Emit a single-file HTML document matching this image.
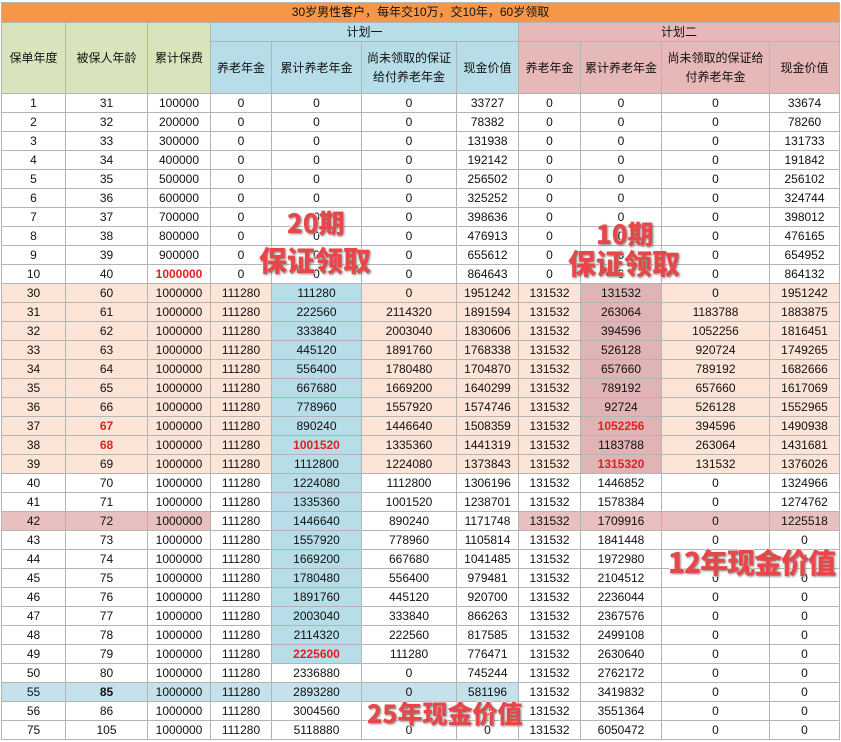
<!DOCTYPE html>
<html><head><meta charset="utf-8">
<style>
html,body{margin:0;padding:0;background:#fff;width:841px;height:742px;overflow:hidden;position:relative}
table{position:absolute;left:1px;top:2px;border-collapse:collapse;table-layout:fixed;font-family:"Liberation Sans","Noto Sans CJK SC",sans-serif;font-size:12px;color:#111}
td{border:1px solid #b4b4b4;text-align:center;padding:0;height:18px;line-height:18px;white-space:nowrap;overflow:hidden}
.t{background:#f79646;height:19px;line-height:19px}
.g{background:#d8e4bc}
.b{background:#b7dde8}
.p{background:#e6b8b7}
.pe td{background:#fce4d6}
.pe td.b{background:#b7dde8}
.pe td.p{background:#e0b4b4}
.lp{background:#e8c0c0 !important}
.lb{background:#c5e2ec !important}
.r{color:#e02020;font-weight:bold}
.k{font-weight:bold}
.ov{position:absolute;font-family:"Noto Sans CJK SC","WenQuanYi Zen Hei",sans-serif;font-weight:900;color:#e8474a;-webkit-text-stroke:1.5px #fff;paint-order:stroke fill;text-shadow:1px 1px 2px rgba(0,0,0,.5);white-space:nowrap;line-height:1}
</style></head><body>
<table>
<colgroup><col style="width:64px"><col style="width:82px"><col style="width:63px"><col style="width:61px"><col style="width:90px"><col style="width:95px"><col style="width:62px"><col style="width:62px"><col style="width:81px"><col style="width:108px"><col style="width:70px"></colgroup>
<tr><td class="t" colspan="11">30岁男性客户，每年交10万，交10年，60岁领取</td></tr>
<tr><td class="g" rowspan="2">保单年度</td><td class="g" rowspan="2">被保人年龄</td><td class="g" rowspan="2">累计保费</td><td class="b" colspan="4" style="height:17px;line-height:17px">计划一</td><td class="p" colspan="4">计划二</td></tr>
<tr><td class="b" style="height:51px">养老年金</td><td class="b">累计养老年金</td><td class="b" style="white-space:normal;line-height:19px">尚未领取的保证<br>给付养老年金</td><td class="b">现金价值</td><td class="p">养老年金</td><td class="p">累计养老年金</td><td class="p" style="white-space:normal;line-height:19px">尚未领取的保证给<br>付养老年金</td><td class="p">现金价值</td></tr>
<tr><td>1</td><td>31</td><td>100000</td><td>0</td><td>0</td><td>0</td><td>33727</td><td>0</td><td>0</td><td>0</td><td>33674</td></tr>
<tr><td>2</td><td>32</td><td>200000</td><td>0</td><td>0</td><td>0</td><td>78382</td><td>0</td><td>0</td><td>0</td><td>78260</td></tr>
<tr><td>3</td><td>33</td><td>300000</td><td>0</td><td>0</td><td>0</td><td>131938</td><td>0</td><td>0</td><td>0</td><td>131733</td></tr>
<tr><td>4</td><td>34</td><td>400000</td><td>0</td><td>0</td><td>0</td><td>192142</td><td>0</td><td>0</td><td>0</td><td>191842</td></tr>
<tr><td>5</td><td>35</td><td>500000</td><td>0</td><td>0</td><td>0</td><td>256502</td><td>0</td><td>0</td><td>0</td><td>256102</td></tr>
<tr><td>6</td><td>36</td><td>600000</td><td>0</td><td>0</td><td>0</td><td>325252</td><td>0</td><td>0</td><td>0</td><td>324744</td></tr>
<tr><td>7</td><td>37</td><td>700000</td><td>0</td><td>0</td><td>0</td><td>398636</td><td>0</td><td>0</td><td>0</td><td>398012</td></tr>
<tr><td>8</td><td>38</td><td>800000</td><td>0</td><td>0</td><td>0</td><td>476913</td><td>0</td><td>0</td><td>0</td><td>476165</td></tr>
<tr><td>9</td><td>39</td><td>900000</td><td>0</td><td>0</td><td>0</td><td>655612</td><td>0</td><td>0</td><td>0</td><td>654952</td></tr>
<tr><td>10</td><td>40</td><td class="r">1000000</td><td>0</td><td>0</td><td>0</td><td>864643</td><td>0</td><td>0</td><td>0</td><td>864132</td></tr>
<tr class="pe"><td>30</td><td>60</td><td>1000000</td><td>111280</td><td class="b">111280</td><td>0</td><td>1951242</td><td>131532</td><td class="p">131532</td><td>0</td><td>1951242</td></tr>
<tr class="pe"><td>31</td><td>61</td><td>1000000</td><td>111280</td><td class="b">222560</td><td>2114320</td><td>1891594</td><td>131532</td><td class="p">263064</td><td>1183788</td><td>1883875</td></tr>
<tr class="pe"><td>32</td><td>62</td><td>1000000</td><td>111280</td><td class="b">333840</td><td>2003040</td><td>1830606</td><td>131532</td><td class="p">394596</td><td>1052256</td><td>1816451</td></tr>
<tr class="pe"><td>33</td><td>63</td><td>1000000</td><td>111280</td><td class="b">445120</td><td>1891760</td><td>1768338</td><td>131532</td><td class="p">526128</td><td>920724</td><td>1749265</td></tr>
<tr class="pe"><td>34</td><td>64</td><td>1000000</td><td>111280</td><td class="b">556400</td><td>1780480</td><td>1704870</td><td>131532</td><td class="p">657660</td><td>789192</td><td>1682666</td></tr>
<tr class="pe"><td>35</td><td>65</td><td>1000000</td><td>111280</td><td class="b">667680</td><td>1669200</td><td>1640299</td><td>131532</td><td class="p">789192</td><td>657660</td><td>1617069</td></tr>
<tr class="pe"><td>36</td><td>66</td><td>1000000</td><td>111280</td><td class="b">778960</td><td>1557920</td><td>1574746</td><td>131532</td><td class="p">92724</td><td>526128</td><td>1552965</td></tr>
<tr class="pe"><td>37</td><td class="r">67</td><td>1000000</td><td>111280</td><td class="b">890240</td><td>1446640</td><td>1508359</td><td>131532</td><td class="p r">1052256</td><td>394596</td><td>1490938</td></tr>
<tr class="pe"><td>38</td><td class="r">68</td><td>1000000</td><td>111280</td><td class="b r">1001520</td><td>1335360</td><td>1441319</td><td>131532</td><td class="p">1183788</td><td>263064</td><td>1431681</td></tr>
<tr class="pe"><td>39</td><td>69</td><td>1000000</td><td>111280</td><td class="b">1112800</td><td>1224080</td><td>1373843</td><td>131532</td><td class="p r">1315320</td><td>131532</td><td>1376026</td></tr>
<tr><td>40</td><td>70</td><td>1000000</td><td>111280</td><td class="b">1224080</td><td>1112800</td><td>1306196</td><td>131532</td><td>1446852</td><td>0</td><td>1324966</td></tr>
<tr><td>41</td><td>71</td><td>1000000</td><td>111280</td><td class="b">1335360</td><td>1001520</td><td>1238701</td><td>131532</td><td>1578384</td><td>0</td><td>1274762</td></tr>
<tr><td class="lp">42</td><td class="lp">72</td><td class="lp">1000000</td><td>111280</td><td class="b">1446640</td><td>890240</td><td>1171748</td><td class="lp">131532</td><td class="lp">1709916</td><td class="lp">0</td><td class="lp">1225518</td></tr>
<tr><td>43</td><td>73</td><td>1000000</td><td>111280</td><td class="b">1557920</td><td>778960</td><td>1105814</td><td>131532</td><td>1841448</td><td>0</td><td>0</td></tr>
<tr><td>44</td><td>74</td><td>1000000</td><td>111280</td><td class="b">1669200</td><td>667680</td><td>1041485</td><td>131532</td><td>1972980</td><td>0</td><td>0</td></tr>
<tr><td>45</td><td>75</td><td>1000000</td><td>111280</td><td class="b">1780480</td><td>556400</td><td>979481</td><td>131532</td><td>2104512</td><td>0</td><td>0</td></tr>
<tr><td>46</td><td>76</td><td>1000000</td><td>111280</td><td class="b">1891760</td><td>445120</td><td>920700</td><td>131532</td><td>2236044</td><td>0</td><td>0</td></tr>
<tr><td>47</td><td>77</td><td>1000000</td><td>111280</td><td class="b">2003040</td><td>333840</td><td>866263</td><td>131532</td><td>2367576</td><td>0</td><td>0</td></tr>
<tr><td>48</td><td>78</td><td>1000000</td><td>111280</td><td class="b">2114320</td><td>222560</td><td>817585</td><td>131532</td><td>2499108</td><td>0</td><td>0</td></tr>
<tr><td>49</td><td>79</td><td>1000000</td><td>111280</td><td class="b r">2225600</td><td>111280</td><td>776471</td><td>131532</td><td>2630640</td><td>0</td><td>0</td></tr>
<tr><td>50</td><td>80</td><td>1000000</td><td>111280</td><td>2336880</td><td>0</td><td>745244</td><td>131532</td><td>2762172</td><td>0</td><td>0</td></tr>
<tr><td class="lb">55</td><td class="lb k">85</td><td class="lb">1000000</td><td class="lb">111280</td><td class="lb">2893280</td><td class="lb">0</td><td class="lb">581196</td><td>131532</td><td>3419832</td><td>0</td><td>0</td></tr>
<tr><td>56</td><td>86</td><td>1000000</td><td>111280</td><td>3004560</td><td>0</td><td>0</td><td>131532</td><td>3551364</td><td>0</td><td>0</td></tr>
<tr><td>75</td><td>105</td><td>1000000</td><td>111280</td><td>5118880</td><td>0</td><td>0</td><td>131532</td><td>6050472</td><td>0</td><td>0</td></tr>
</table>
<div class="ov" style="left:287px;top:210px;font-size:26px">20期</div>
<div class="ov" style="left:259px;top:246px;font-size:28px">保证领取</div>
<div class="ov" style="left:596px;top:221px;font-size:26px">10期</div>
<div class="ov" style="left:568px;top:249px;font-size:28px">保证领取</div>
<div class="ov" style="left:668px;top:548px;font-size:28px;letter-spacing:-1px">12年现金价值</div>
<div class="ov" style="left:367px;top:701px;font-size:25px">25年现金价值</div>
</body></html>
